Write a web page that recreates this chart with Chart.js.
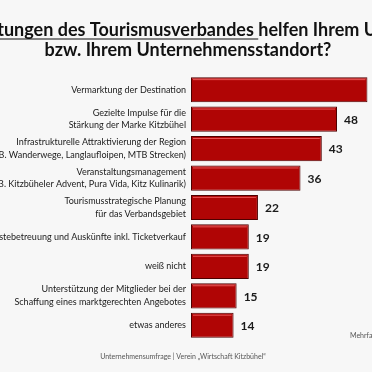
<!DOCTYPE html>
<html lang="de">
<head>
<meta charset="utf-8">
<script src="https://cdn.jsdelivr.net/npm/chart.js@4"></script>
<style>
    html, body { margin: 0; padding: 0; background: #f7f7f7; }
    #box { width: 372px; height: 372px; position: relative; }
</style>
</head>
<body>
<div id="box"><canvas id="grafico"></canvas></div>
<script>
// Kategorien (zweizeilige Beschriftungen als Arrays)
const kategorien = [
    ["Vermarktung der Destination"],
    ["Gezielte Impulse für die", "Stärkung der Marke Kitzbühel"],
    ["Infrastrukturelle Attraktivierung der Region", "(z.B. Wanderwege, Langlaufloipen, MTB Strecken)"],
    ["Veranstaltungsmanagement", "(z.B. Kitzbüheler Advent, Pura Vida, Kitz Kulinarik)"],
    ["Tourismusstrategische Planung", "für das Verbandsgebiet"],
    ["Gästebetreuung und Auskünfte inkl. Ticketverkauf"],
    ["weiß nicht"],
    ["Unterstützung der Mitglieder bei der", "Schaffung eines marktgerechten Angebotes"],
    ["etwas anderes"]
];
const werte = [58, 48, 43, 36, 22, 19, 19, 15, 14];

const titelZeilen = [
    "Welche Leistungen des Tourismusverbandes helfen Ihrem Unternehmen",
    "bzw. Ihrem Unternehmensstandort?"
];
const fussText = "Unternehmensumfrage | Verein „Wirtschaft Kitzbühel“";
const hinweisText = "Mehrfachnennungen möglich";

const schrift = "Lato, 'Open Sans', sans-serif";

// Titel, Fußzeile und Wertebeschriftungen
const extraPlugin = {
    id: "extra",
    afterDatasetsDraw(chart) {
        const ctx = chart.ctx;
        const meta = chart.getDatasetMeta(0);
        ctx.save();

        // Glanzlinie oben auf den Balken
        meta.data.forEach(bar => {
            const top = bar.y - bar.height / 2;
            ctx.strokeStyle = "rgba(255,120,120,0.7)";
            ctx.lineWidth = 1;
            ctx.beginPath();
            ctx.moveTo(bar.base + 2, top + 2.5);
            ctx.lineTo(bar.x - 2, top + 2.5);
            ctx.stroke();
        });

        // Werte neben den Balken
        ctx.fillStyle = "#1a1a1a";
        ctx.font = "bold 12px " + schrift;
        ctx.textAlign = "left";
        ctx.textBaseline = "middle";
        meta.data.forEach((bar, i) => {
            ctx.fillText(String(werte[i]), bar.x + 7, bar.y + 1);
        });

        // Titel
        const mitte = 188;
        ctx.fillStyle = "#111";
        ctx.font = "bold 18px " + schrift;
        ctx.textAlign = "center";
        ctx.textBaseline = "alphabetic";
        ctx.fillText(titelZeilen[0], mitte, 36);
        ctx.fillText(titelZeilen[1], mitte, 56);

        // Unterstreichung "Leistungen des Tourismusverbandes "
        const gesamt = ctx.measureText(titelZeilen[0]).width;
        const start = mitte - gesamt / 2 + ctx.measureText("Welche ").width;
        const breite = ctx.measureText("Leistungen des Tourismusverbandes ").width;
        ctx.strokeStyle = "#111";
        ctx.lineWidth = 1.2;
        ctx.beginPath();
        ctx.moveTo(start, 39);
        ctx.lineTo(start + breite, 39);
        ctx.stroke();

        // Fußzeile
        ctx.fillStyle = "#555";
        ctx.font = "7px " + schrift;
        ctx.fillText(fussText, 183, 359);
        ctx.textAlign = "left";
        ctx.fillText(hinweisText, 350, 338);

        ctx.restore();
    }
};

const contesto = document.getElementById("grafico").getContext("2d");

new Chart(contesto, {
    type: "bar",
    data: {
        labels: kategorien,
        datasets: [{
            data: werte,
            backgroundColor: "#b00505",
            borderColor: "#4d0000",
            borderWidth: 1,
            borderSkipped: false,
            barPercentage: 0.92,
            categoryPercentage: 0.93
        }]
    },
    options: {
        indexAxis: "y",
        responsive: true,
        maintainAspectRatio: false,
        animation: false,
        layout: { padding: { top: 75, bottom: 32, left: 0, right: 0 } },
        scales: {
            x: {
                display: false,
                min: 0,
                max: 59.5,
                grid: { display: false }
            },
            y: {
                grid: { display: false, drawTicks: false },
                border: { display: false },
                afterFit(scale) { scale.width = 191; },
                ticks: {
                    color: "#1a1a1a",
                    padding: 5,
                    font: { family: schrift, size: 9, lineHeight: 1.4 }
                }
            }
        },
        plugins: {
            legend: { display: false },
            tooltip: { enabled: false },
            title: { display: false }
        }
    },
    plugins: [extraPlugin]
});
</script>
</body>
</html>
